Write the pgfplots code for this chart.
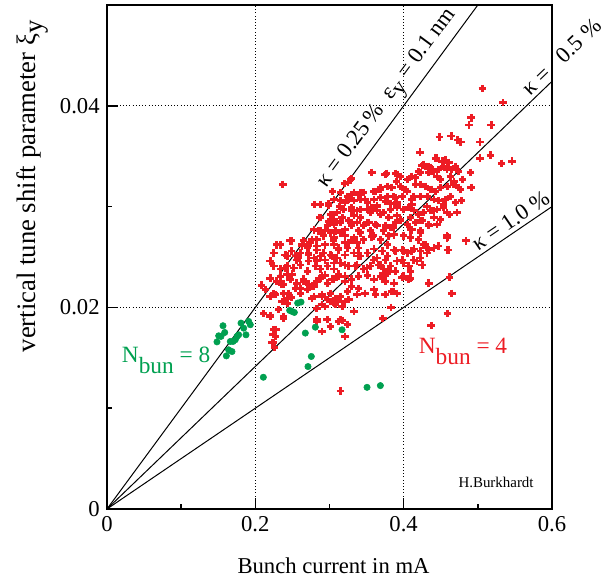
\documentclass[border=0pt]{standalone}
\usepackage{pgfplots}
\pgfplotsset{compat=1.18}
\usepackage{pgfplotstable}
\usepackage{fontspec}
\setmainfont{Liberation Serif}
\definecolor{dred}{RGB}{237,28,36}
\definecolor{dgreen}{RGB}{0,160,80}

\pgfplotstableread{
x y
0.506 0.0417
0.534 0.0403
0.491 0.0388
0.488 0.0381
0.518 0.0381
0.448 0.0369
0.464 0.0370
0.473 0.0366
0.477 0.0364
0.503 0.0364
0.517 0.0351
0.503 0.0348
0.532 0.0343
0.546 0.0345
0.422 0.0354
0.237 0.0322
0.280 0.0302
0.425 0.0341
0.443 0.0348
0.452 0.0345
0.456 0.0346
0.461 0.0344
0.454 0.0340
0.429 0.0340
0.436 0.0339
0.357 0.0334
0.375 0.0332
0.389 0.0333
0.392 0.0332
0.411 0.0330
0.405 0.0327
0.416 0.0329
0.423 0.0334
0.434 0.0334
0.441 0.0335
0.447 0.0337
0.459 0.0339
0.465 0.0337
0.470 0.0340
0.474 0.0335
0.445 0.0330
0.450 0.0327
0.463 0.0330
0.468 0.0325
0.490 0.0334
0.390 0.0325
0.328 0.0327
0.325 0.0324
0.378 0.0320
0.384 0.0319
0.396 0.0320
0.402 0.0317
0.416 0.0322
0.423 0.0322
0.429 0.0320
0.436 0.0317
0.443 0.0315
0.450 0.0319
0.459 0.0320
0.467 0.0322
0.474 0.0319
0.491 0.0319
0.369 0.0317
0.362 0.0315
0.346 0.0314
0.339 0.0312
0.333 0.0314
0.324 0.0310
0.315 0.0314
0.304 0.0315
0.299 0.0303
0.306 0.0307
0.315 0.0306
0.326 0.0307
0.333 0.0306
0.342 0.0307
0.351 0.0304
0.360 0.0307
0.369 0.0309
0.378 0.0310
0.389 0.0309
0.398 0.0310
0.411 0.0307
0.423 0.0310
0.432 0.0310
0.441 0.0307
0.447 0.0306
0.456 0.0307
0.463 0.0310
0.478 0.0306
0.470 0.0304
0.382 0.0303
0.391 0.0302
0.364 0.0301
0.288 0.0302
0.288 0.0289
0.301 0.0292
0.310 0.0294
0.319 0.0297
0.330 0.0299
0.337 0.0296
0.351 0.0297
0.357 0.0299
0.364 0.0296
0.373 0.0294
0.382 0.0297
0.391 0.0299
0.400 0.0297
0.407 0.0299
0.414 0.0296
0.420 0.0292
0.427 0.0294
0.436 0.0296
0.445 0.0297
0.454 0.0299
0.462 0.0292
0.472 0.0294
0.391 0.0291
0.380 0.0289
0.333 0.0291
0.342 0.0289
0.306 0.0287
0.441 0.0289
0.450 0.0287
0.279 0.0277
0.288 0.0276
0.297 0.0281
0.306 0.0282
0.315 0.0284
0.326 0.0286
0.337 0.0284
0.346 0.0281
0.353 0.0284
0.364 0.0281
0.373 0.0276
0.382 0.0279
0.389 0.0284
0.396 0.0286
0.405 0.0282
0.416 0.0284
0.425 0.0286
0.434 0.0281
0.445 0.0282
0.411 0.0277
0.423 0.0276
0.339 0.0276
0.355 0.0276
0.315 0.0274
0.301 0.0274
0.229 0.0262
0.234 0.0262
0.249 0.0266
0.265 0.0266
0.274 0.0264
0.283 0.0267
0.292 0.0271
0.306 0.0269
0.321 0.0271
0.333 0.0269
0.346 0.0267
0.357 0.0270
0.369 0.0267
0.380 0.0271
0.387 0.0272
0.400 0.0271
0.409 0.0269
0.420 0.0267
0.429 0.0262
0.459 0.0270
0.484 0.0266
0.306 0.0262
0.326 0.0264
0.337 0.0264
0.378 0.0262
0.263 0.0261
0.270 0.0259
0.220 0.0246
0.225 0.0254
0.240 0.0252
0.249 0.0256
0.261 0.0254
0.272 0.0252
0.283 0.0257
0.292 0.0254
0.301 0.0252
0.312 0.0257
0.324 0.0259
0.333 0.0254
0.342 0.0251
0.351 0.0254
0.360 0.0258
0.371 0.0256
0.378 0.0251
0.387 0.0257
0.398 0.0257
0.405 0.0254
0.414 0.0258
0.423 0.0256
0.434 0.0257
0.441 0.0259
0.460 0.0257
0.364 0.0249
0.310 0.0249
0.283 0.0247
0.243 0.0251
0.256 0.0247
0.279 0.0249
0.234 0.0238
0.243 0.0241
0.252 0.0239
0.261 0.0242
0.270 0.0236
0.281 0.0241
0.288 0.0238
0.297 0.0241
0.306 0.0238
0.315 0.0244
0.326 0.0241
0.337 0.0242
0.346 0.0238
0.355 0.0241
0.366 0.0242
0.373 0.0238
0.382 0.0241
0.391 0.0246
0.400 0.0244
0.407 0.0241
0.418 0.0246
0.425 0.0242
0.306 0.0244
0.243 0.0233
0.225 0.0241
0.378 0.0234
0.208 0.0222
0.220 0.0229
0.229 0.0226
0.238 0.0223
0.247 0.0228
0.256 0.0224
0.265 0.0228
0.272 0.0223
0.283 0.0226
0.290 0.0231
0.297 0.0224
0.306 0.0228
0.312 0.0233
0.321 0.0231
0.330 0.0228
0.339 0.0231
0.351 0.0232
0.360 0.0228
0.369 0.0231
0.375 0.0226
0.387 0.0224
0.400 0.0231
0.409 0.0229
0.434 0.0224
0.462 0.0230
0.261 0.0219
0.279 0.0221
0.220 0.0211
0.225 0.0214
0.238 0.0214
0.249 0.0210
0.261 0.0214
0.270 0.0218
0.279 0.0211
0.290 0.0213
0.301 0.0214
0.308 0.0209
0.315 0.0211
0.324 0.0216
0.337 0.0213
0.348 0.0214
0.360 0.0218
0.375 0.0213
0.387 0.0216
0.391 0.0214
0.465 0.0214
0.236 0.0206
0.243 0.0209
0.297 0.0208
0.310 0.0206
0.211 0.0194
0.220 0.0192
0.238 0.0189
0.243 0.0204
0.290 0.0203
0.301 0.0206
0.306 0.0204
0.326 0.0208
0.333 0.0196
0.283 0.0199
0.294 0.0201
0.372 0.0189
0.459 0.0194
0.228 0.0178
0.224 0.0173
0.283 0.0186
0.297 0.0188
0.301 0.0181
0.290 0.0176
0.312 0.0186
0.317 0.0187
0.324 0.0183
0.321 0.0171
0.437 0.0182
0.224 0.0165
0.226 0.0160
0.315 0.0117
0.320 0.0323
0.3295 0.0328
0.330 0.0312
0.299 0.0301
0.314 0.0300
0.321 0.0304
0.3295 0.0296
0.3056 0.0292
0.287 0.0289
0.299 0.0285
0.308 0.0285
0.317 0.0289
0.321 0.0277
0.330 0.0281
0.342 0.0274
0.308 0.0276
0.294 0.0276
0.285 0.0276
0.247 0.0266
0.263 0.0262
0.2765 0.0267
0.283 0.0261
0.294 0.0262
0.3056 0.0266
0.312 0.0259
0.321 0.0264
0.3326 0.0267
0.339 0.0259
0.2405 0.0252
0.254 0.0251
0.272 0.0254
0.2877 0.0251
0.3034 0.0251
0.321 0.0252
0.339 0.0251
0.2135 0.0218
0.227 0.0213
0.235 0.0223
0.245 0.0214
0.254 0.0219
0.265 0.0226
0.2765 0.0221
0.2877 0.0229
0.294 0.0232
0.3034 0.0228
0.312 0.0231
0.321 0.0226
0.330 0.0221
0.339 0.0219
0.2584 0.0249
0.272 0.0246
0.283 0.0246
0.294 0.0247
0.308 0.0249
0.321 0.0242
0.335 0.0241
0.2405 0.0239
0.2495 0.0233
0.2337 0.0231
0.2765 0.0209
0.290 0.0211
0.308 0.0203
0.317 0.0201
0.321 0.0206
0.220 0.0191
0.2315 0.0198
0.238 0.0191
0.283 0.0188
0.2967 0.0188
0.3146 0.0188
0.321 0.0171
0.2247 0.0178
0.227 0.0171
0.2225 0.0165
0.444 0.0348
0.427 0.0342
0.434 0.0340
0.377 0.0333
0.3955 0.0330
0.420 0.0335
0.438 0.0335
0.4585 0.0337
0.479 0.0327
0.4765 0.0317
0.3416 0.0314
0.3596 0.0315
0.3686 0.0319
0.3866 0.0310
0.4046 0.0315
0.4135 0.0310
0.438 0.0317
0.348 0.0307
0.364 0.0300
0.3753 0.0305
0.391 0.0304
0.411 0.0302
0.4315 0.0300
0.4405 0.0296
0.454 0.0302
0.3416 0.0297
0.355 0.0294
0.3686 0.0292
0.3955 0.0287
0.409 0.0289
0.4225 0.0286
0.4337 0.0282
0.4585 0.0294
0.3506 0.0284
0.3618 0.0282
0.3753 0.0281
0.3866 0.0279
0.409 0.0277
0.4225 0.0274
0.4585 0.0271
0.3596 0.0271
0.409 0.0269
0.4585 0.0269
0.447 0.0261
0.459 0.0257
0.427 0.0262
0.4315 0.0254
0.389 0.0256
0.400 0.0256
0.411 0.0256
0.398 0.0247
0.4135 0.0247
0.4225 0.0249
0.3596 0.0247
0.3753 0.0247
0.3506 0.0239
0.3686 0.0242
0.380 0.0236
0.389 0.0236
0.409 0.0236
0.398 0.0230
0.407 0.0228
0.373 0.0231
0.4337 0.0224
0.348 0.0214
0.362 0.0213
0.384 0.0216
0.383 0.0200
}\redtable

\pgfplotstableread{
x y
0.1564 0.01818
0.1506 0.01718
0.1587 0.01751
0.1483 0.01658
0.1537 0.01712
0.1663 0.01662
0.1699 0.01662
0.1730 0.01679
0.1753 0.01712
0.1775 0.01728
0.1807 0.01844
0.1843 0.01794
0.1910 0.01861
0.1932 0.01828
0.1874 0.01728
0.1640 0.01579
0.1685 0.01562
0.1609 0.01519
0.2463 0.01970
0.2494 0.01960
0.2526 0.01950
0.2571 0.02043
0.2616 0.02053
0.2674 0.01745
0.2809 0.01804
0.3169 0.01778
0.2755 0.01513
0.2710 0.01413
0.2108 0.01307
0.3506 0.01207
0.3686 0.01224
}\greentable

\begin{document}
\begin{tikzpicture}
\begin{axis}[
  name=ax,
  scale only axis,
  width=333.75pt, height=378pt,
  xmin=0, xmax=0.6, ymin=0, ymax=0.05,
  clip=false,
  axis line style={line width=1.3pt},
  xtick={0,0.2,0.4,0.6}, xticklabels={0,0.2,0.4,0.6},
  ytick={0,0.02,0.04}, yticklabels={0,0.02,0.04},
  minor xtick={0.1,0.3,0.5}, minor ytick={0.01,0.03},
  scaled x ticks=false, scaled y ticks=false,
  xtick pos=left, ytick pos=left,
  tick align=inside,
  major tick length=8pt, minor tick length=4pt,
  every tick/.style={black, line width=1.1pt},
  grid=major,
  major grid style={black, dotted, line width=0.8pt},
  /pgf/number format/assume math mode=true,
  tick label style={font=\fontsize{17}{20}\selectfont},
  xticklabel style={yshift=-2pt},
  yticklabel style={xshift=-2pt},
  every axis x label/.style={at={(axis description cs:0.509,-0.127)}, anchor=base},
  every axis y label/.style={at={(axis description cs:-0.160,0.64)}, rotate=90, anchor=base},
  xlabel={\fontsize{17}{20}\selectfont Bunch current in mA},
  ylabel={\fontsize{20}{22}\selectfont vertical tune shift parameter ξ\raisebox{-0.25em}{y}},
]
\addplot[only marks, mark=+, color=dred, mark size=2.8pt, line width=2.1pt, mark options={line width=2.1pt}] table[x=x,y=y] {\redtable};
\addplot[only marks, mark=*, color=dgreen, mark size=2.4pt, mark options={draw=dgreen, fill=dgreen}] table[x=x,y=y] {\greentable};
\addplot[black, line width=0.75pt] coordinates {(0,0) (0.5,0.05)};
\addplot[black, line width=0.75pt] coordinates {(0,0) (0.6,0.04243)};
\addplot[black, line width=0.75pt] coordinates {(0,0) (0.6,0.03)};
\node[rotate=53.6, anchor=south, inner sep=1.5pt, font=\fontsize{17}{20}\selectfont] at (axis cs:0.397,0.0397) {κ = 0.25\,\% \ ε\raisebox{-0.25em}{y} = 0.1 nm};
\node[rotate=43.8, anchor=south, inner sep=2pt, font=\fontsize{17}{20}\selectfont] at (axis cs:0.623,0.0441) {κ =\ \ \ 0.5 \%};
\node[rotate=34.2, anchor=south, inner sep=2.5pt, font=\fontsize{17}{20}\selectfont] at (axis cs:0.5525,0.0277) {κ = 1.0 \%};
\node[anchor=base, text=dgreen, font=\fontsize{17.5}{20}\selectfont] at (axis cs:0.0797,0.0145) {N\raisebox{-0.45em}{bun} = 8};
\node[anchor=base, text=dred, font=\fontsize{17.5}{20}\selectfont] at (axis cs:0.480,0.0154) {N\raisebox{-0.45em}{bun} = 4};
\node[anchor=base, font=\fontsize{11.2}{13}\selectfont] at (axis cs:0.5246,0.00216) {H.Burkhardt};
\end{axis}
\pgfresetboundingbox
\path ([xshift=-80.25pt,yshift=-55.5pt]ax.south west) rectangle ([xshift=43.5pt,yshift=3.75pt]ax.north east);
\end{tikzpicture}
\end{document}
